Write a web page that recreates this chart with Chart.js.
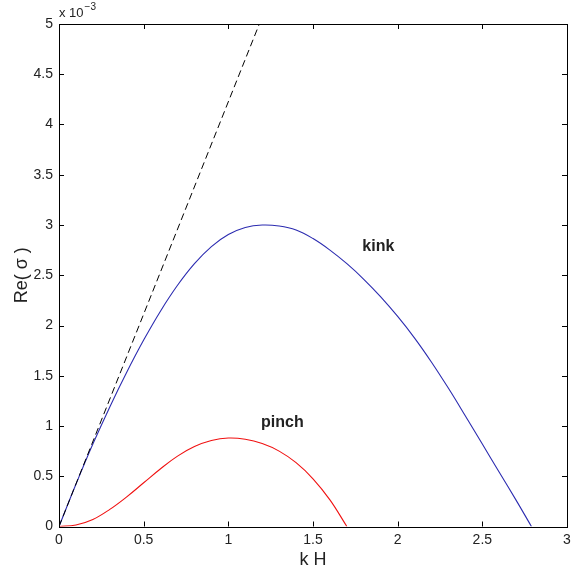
<!DOCTYPE html>
<html>
<head>
<meta charset="utf-8">
<script src="https://cdn.jsdelivr.net/npm/chart.js@4"></script>
<style>
  html, body { margin: 0; padding: 0; background: #fff; }
  canvas { display: block; }
</style>
</head>
<body>
<canvas id="sigmaChart" width="571" height="572"></canvas>
<script>
/* ===================== DATA (Re(sigma) in units of 1e-3) ===================== */
const kinkK = [0, 0.1, 0.2, 0.3, 0.4, 0.5, 0.6, 0.7, 0.8, 0.9, 1.0, 1.1, 1.2, 1.3, 1.4, 1.5, 1.6, 1.7, 1.8, 1.9, 2.0, 2.1, 2.2, 2.3, 2.4, 2.5, 2.6, 2.7, 2.79];
const kinkRe = [0, 0.42, 0.82, 1.19, 1.535, 1.855, 2.145, 2.40, 2.615, 2.785, 2.905, 2.975, 3.0, 2.99, 2.95, 2.865, 2.75, 2.615, 2.46, 2.285, 2.09, 1.875, 1.635, 1.375, 1.10, 0.82, 0.54, 0.26, 0];

const pinchK = [0, 0.1, 0.2, 0.3, 0.4, 0.5, 0.6, 0.7, 0.8, 0.9, 1.0, 1.1, 1.2, 1.3, 1.4, 1.5, 1.6, 1.7];
const pinchRe = [0, 0.015, 0.07, 0.17, 0.295, 0.435, 0.575, 0.70, 0.795, 0.855, 0.88, 0.868, 0.825, 0.75, 0.635, 0.475, 0.265, 0];

const asymK = [0, 1.183];
const asymRe = [0, 5];

const xTicks = [0, 0.5, 1, 1.5, 2, 2.5, 3];
const yTicks = [0, 0.5, 1, 1.5, 2, 2.5, 3, 3.5, 4, 4.5, 5];

const curveLabels = ["kink", "pinch"];
const labelK = [1.886, 1.319];
const labelRe = [2.79, 1.03];

const toPoints = (xs, ys) => xs.map((x, i) => ({ x: x, y: ys[i] }));
const FONT = "'Liberation Sans', Arial, sans-serif";

/* ========== Frame, inward ticks, labels ========== */
const framePlugin = {
  id: "frame",
  afterDatasetsDraw(chart) {
    const { ctx, chartArea: a, scales: { x, y } } = chart;
    ctx.save();
    ctx.strokeStyle = "#000";
    ctx.lineWidth = 1;
    ctx.strokeRect(Math.round(a.left) + 0.5, Math.round(a.top) + 0.5,
      Math.round(a.right - a.left), Math.round(a.bottom - a.top));

    const tl = 5;
    ctx.beginPath();
    xTicks.forEach(v => {
      const px = Math.round(x.getPixelForValue(v)) + 0.5;
      ctx.moveTo(px, a.bottom); ctx.lineTo(px, a.bottom - tl);
      ctx.moveTo(px, a.top); ctx.lineTo(px, a.top + tl);
    });
    yTicks.forEach(v => {
      const py = Math.round(y.getPixelForValue(v)) + 0.5;
      ctx.moveTo(a.left, py); ctx.lineTo(a.left + tl, py);
      ctx.moveTo(a.right, py); ctx.lineTo(a.right - tl, py);
    });
    ctx.stroke();

    // curve labels
    ctx.fillStyle = "#222";
    ctx.font = "bold 16px " + FONT;
    ctx.textAlign = "center";
    ctx.textBaseline = "middle";
    curveLabels.forEach((t, i) => {
      ctx.fillText(t, x.getPixelForValue(labelK[i]), y.getPixelForValue(labelRe[i]));
    });

    // exponent label
    ctx.textAlign = "left";
    ctx.textBaseline = "alphabetic";
    ctx.font = "13px " + FONT;
    const w = ctx.measureText("x 10").width;
    ctx.fillText("x 10", a.left, a.top - 7);
    ctx.font = "10px " + FONT;
    ctx.fillText("\u22123", a.left + w + 1, a.top - 14);
    ctx.restore();
  }
};

const tickFont = { family: FONT, size: 14 };

new Chart(document.getElementById("sigmaChart").getContext("2d"), {
  type: "scatter",
  data: {
    datasets: [
      {
        data: toPoints(asymK, asymRe),
        showLine: true,
        borderColor: "#000",
        borderWidth: 1,
        borderDash: [7, 4],
        pointRadius: 0,
        tension: 0
      },
      {
        data: toPoints(kinkK, kinkRe),
        showLine: true,
        borderColor: "#2b2bb0",
        borderWidth: 1.1,
        pointRadius: 0,
        tension: 0.4
      },
      {
        data: toPoints(pinchK, pinchRe),
        showLine: true,
        borderColor: "#f01010",
        borderWidth: 1.1,
        pointRadius: 0,
        tension: 0.4
      }
    ]
  },
  options: {
    responsive: false,
    animation: false,
    devicePixelRatio: 1,
    layout: { padding: { top: 24, right: 4, left: 0, bottom: 0 } },
    plugins: { legend: { display: false }, tooltip: { enabled: false } },
    scales: {
      x: {
        type: "linear",
        min: 0,
        max: 3,
        afterFit: s => { s.height = 45.5; s.paddingLeft = 0; s.paddingRight = 0; },
        afterBuildTicks: s => { s.ticks = xTicks.map(v => ({ value: v })); },
        grid: { display: false, drawTicks: false },
        border: { display: false },
        ticks: { color: "#222", font: tickFont, padding: 5, maxRotation: 0, callback: v => String(v) },
        title: {
          display: true,
          text: "k H",
          color: "#222",
          font: { family: FONT, size: 18 },
          padding: { top: 0, bottom: 1 }
        }
      },
      y: {
        type: "linear",
        min: 0,
        max: 5,
        afterFit: s => { s.width = 59; s.paddingTop = 0; s.paddingBottom = 0; },
        afterBuildTicks: s => { s.ticks = yTicks.map(v => ({ value: v })); },
        grid: { display: false, drawTicks: false },
        border: { display: false },
        ticks: { color: "#222", font: tickFont, padding: 6, callback: v => String(v) },
        title: {
          display: true,
          text: "Re( \u03c3 )",
          color: "#222",
          font: { family: FONT, size: 18 },
          padding: { top: 11, bottom: 0 }
        }
      }
    }
  },
  plugins: [framePlugin]
});
</script>
</body>
</html>
